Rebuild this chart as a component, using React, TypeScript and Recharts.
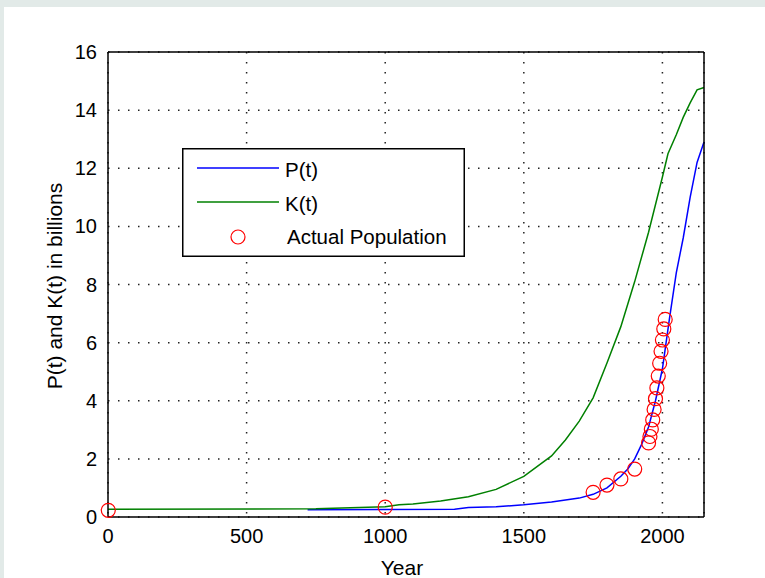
import React from 'react';
import { ComposedChart, Line, Scatter, XAxis, YAxis, CartesianGrid, Legend } from 'recharts';

// P(t) model curve (billions)
const pYears = [720, 1000, 1250, 1300, 1400, 1500, 1600, 1700, 1750, 1800, 1850, 1875, 1900, 1925, 1950, 1975, 2000, 2025, 2050, 2075, 2100, 2125, 2150];
const pValues = [0.25, 0.26, 0.27, 0.33, 0.35, 0.42, 0.52, 0.65, 0.78, 1.0, 1.4, 1.65, 2.0, 2.5, 3.1, 4.0, 5.1, 6.8, 8.4, 9.6, 11.0, 12.2, 12.9];

// K(t) carrying capacity (billions)
const kYears = [0, 750, 1000, 1050, 1100, 1200, 1300, 1400, 1500, 1600, 1650, 1700, 1750, 1800, 1850, 1900, 1950, 2000, 2020, 2050, 2075, 2100, 2125, 2150];
const kValues = [0.27, 0.28, 0.35, 0.42, 0.45, 0.55, 0.7, 0.95, 1.4, 2.1, 2.65, 3.3, 4.1, 5.3, 6.55, 8.1, 9.8, 11.7, 12.5, 13.15, 13.75, 14.25, 14.7, 14.78];

// actual population
const popYears = [1, 1000, 1750, 1800, 1850, 1900, 1950, 1955, 1960, 1965, 1970, 1975, 1980, 1985, 1990, 1995, 2000, 2005, 2010];
const popValues = [0.23, 0.34, 0.85, 1.1, 1.31, 1.65, 2.55, 2.77, 3.02, 3.34, 3.7, 4.07, 4.44, 4.85, 5.29, 5.7, 6.09, 6.47, 6.8];

const xTicks = [0, 500, 1000, 1500, 2000];
const yTicks = [0, 2, 4, 6, 8, 10, 12, 14, 16];

const pData = pYears.map((year, i) => ({ year, p: pValues[i] }));
const kData = kYears.map((year, i) => ({ year, k: kValues[i] }));
const popData = popYears.map((year, i) => ({ year, pop: popValues[i] }));

const FONT = '"Liberation Sans", Arial, sans-serif';
const BLUE = '#0000ff';
const GREEN = '#008000';
const RED = '#ff0000';

const Ring = (props: any) => (
  <circle cx={props.cx} cy={props.cy} r={7} fill="none" stroke={RED} strokeWidth={1.2} />
);

const LegendBox = () => (
  <svg width={283} height={109} style={{ display: 'block' }}>
    <rect x={0.75} y={0.75} width={281.5} height={107.5} fill="#fff" stroke="#000" strokeWidth={1.5} />
    <line x1={15} x2={97} y1={20} y2={20} stroke={BLUE} strokeWidth={1.5} />
    <text x={103} y={29} fontSize={20.5} fontFamily={FONT} fill="#000">P(t)</text>
    <line x1={15} x2={97} y1={54} y2={54} stroke={GREEN} strokeWidth={1.5} />
    <text x={103} y={63} fontSize={20.5} fontFamily={FONT} fill="#000">K(t)</text>
    <circle cx={56} cy={89} r={7} fill="none" stroke={RED} strokeWidth={1.2} />
    <text x={105} y={96} fontSize={20.5} fontFamily={FONT} fill="#000">Actual Population</text>
  </svg>
);

const axisLine = { stroke: '#000', strokeWidth: 1.5 };
const tickStyle = { fill: '#000', fontSize: 20, fontFamily: FONT };

export default function App() {
  return (
    <div style={{ position: 'absolute', left: 0, top: 0, width: 765, height: 578, background: '#e2eae8' }}>
      <div style={{ position: 'absolute', left: 4, top: 7, width: 761, height: 571, background: '#fff' }}>
        <ComposedChart width={761} height={571} margin={{ top: 45, right: 61, bottom: 0, left: 0 }}>
          <CartesianGrid stroke="#222" strokeWidth={1.5} strokeDasharray="1.5 8.5" />
          <XAxis
            dataKey="year"
            type="number"
            domain={[0, 2150]}
            ticks={xTicks}
            height={61}
            tickLine={false}
            tickSize={0}
            tickMargin={12}
            axisLine={axisLine}
            tick={tickStyle}
            label={{
              content: ({ viewBox }: any) => (
                <text x={viewBox.x + viewBox.width / 2 - 4} y={viewBox.y + 58} textAnchor="middle" fontSize={21} fontFamily={FONT} fill="#000">
                  Year
                </text>
              ),
            }}
          />
          <XAxis xAxisId="bin" orientation="bottom" mirror type="number" domain={[0, 2150]} ticks={xTicks} tick={false} axisLine={false} tickSize={6} tickLine={{ stroke: '#000', strokeWidth: 1.5 }} />
          <XAxis xAxisId="top" orientation="top" mirror type="number" domain={[0, 2150]} ticks={xTicks} tick={false} axisLine={axisLine} tickSize={6} tickLine={{ stroke: '#000', strokeWidth: 1.5 }} />
          <YAxis
            type="number"
            domain={[0, 16]}
            ticks={yTicks}
            width={104}
            tickLine={false}
            tickSize={0}
            tickMargin={11}
            axisLine={axisLine}
            tick={tickStyle}
            label={{
              content: ({ viewBox }: any) => {
                const cx = 58;
                const cy = viewBox.y + viewBox.height / 2 + 1.5;
                return (
                  <text x={cx} y={cy} transform={`rotate(-90, ${cx}, ${cy})`} textAnchor="middle" fontSize={21} fontFamily={FONT} fill="#000">
                    P(t) and K(t) in billions
                  </text>
                );
              },
            }}
          />
          <YAxis yAxisId="lin" orientation="left" mirror type="number" domain={[0, 16]} ticks={yTicks} tick={false} axisLine={false} tickSize={6} tickLine={{ stroke: '#000', strokeWidth: 1.5 }} />
          <YAxis yAxisId="right" orientation="right" mirror type="number" domain={[0, 16]} ticks={yTicks} tick={false} axisLine={axisLine} tickSize={6} tickLine={{ stroke: '#000', strokeWidth: 1.5 }} />
          <Line data={pData} dataKey="p" type="linear" stroke={BLUE} strokeWidth={1.5} dot={false} isAnimationActive={false} />
          <Line data={kData} dataKey="k" type="linear" stroke={GREEN} strokeWidth={1.5} dot={false} isAnimationActive={false} />
          <Scatter data={popData} dataKey="pop" shape={Ring} isAnimationActive={false} />
          <Legend
            layout="vertical"
            align="center"
            verticalAlign="middle"
            wrapperStyle={{ position: 'absolute', left: 178, top: 141, width: 283, height: 109 }}
            content={() => <LegendBox />}
          />
        </ComposedChart>
      </div>
    </div>
  );
}
